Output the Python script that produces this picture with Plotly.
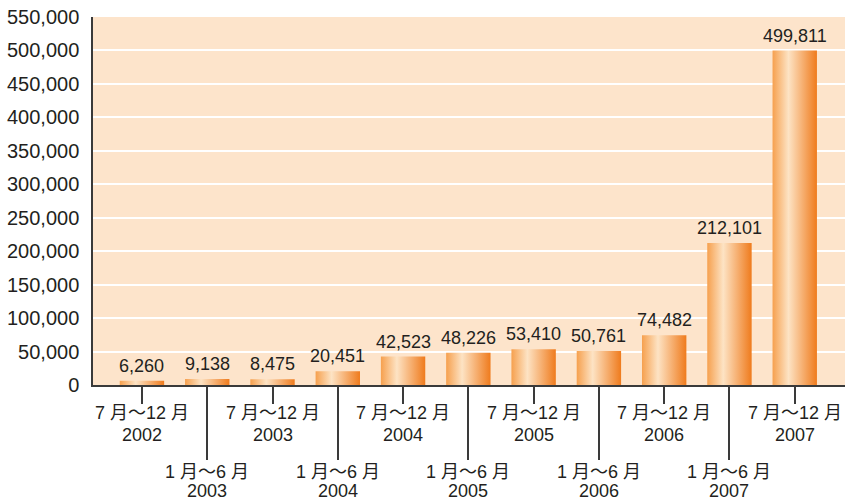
import plotly.graph_objects as go

periods = ["7 月～12 月", "1 月～6 月", "7 月～12 月", "1 月～6 月", "7 月～12 月", "1 月～6 月",
           "7 月～12 月", "1 月～6 月", "7 月～12 月", "1 月～6 月", "7 月～12 月"]
years = ["2002", "2003", "2003", "2004", "2004", "2005", "2005", "2006", "2006", "2007", "2007"]
values = [6260, 9138, 8475, 20451, 42523, 48226, 53410, 50761, 74482, 212101, 499811]
y_ticks = list(range(0, 550001, 50000))

TEXT = "#231f20"
AXIS = "#3a3a3a"
FONT = "Liberation Sans, Arial, Noto Sans CJK JP, sans-serif"
half_w = 0.34

fig = go.Figure()
for i, v in enumerate(values):
    fig.add_trace(go.Scatter(
        x=[i - half_w, i + half_w, i + half_w, i - half_w, i - half_w],
        y=[0, 0, v, v, 0],
        mode="lines", fill="toself", line=dict(width=0),
        fillgradient=dict(type="horizontal",
                          colorscale=[[0, "#f6a04e"], [0.36, "#fde3c4"], [1, "#ef7b1d"]]),
        hoverinfo="skip", showlegend=False,
    ))
    fig.add_annotation(x=i, y=v, text=f"{v:,}", showarrow=False,
                       xanchor="center", yanchor="bottom", yshift=3,
                       font=dict(size=18, color=TEXT, family=FONT))
    # category labels: upper row for 7-12 periods, lower row for 1-6 periods
    lower = (i % 2 == 1)
    for txt, shift in ((periods[i], -87 if lower else -28), (years[i], -106 if lower else -50)):
        fig.add_annotation(x=i, xref="x", y=0, yref="paper", text=txt, showarrow=False,
                           xanchor="center", yanchor="middle", yshift=shift,
                           font=dict(size=18, color=TEXT, family=FONT))

# dummy trace on xaxis2 so it renders
fig.add_trace(go.Scatter(x=[0], y=[0], xaxis="x2", mode="markers",
                         marker=dict(opacity=0), hoverinfo="skip", showlegend=False))

idx = list(range(len(values)))
xr = [-0.75, 10.77]

fig.update_layout(
    width=845, height=503,
    margin=dict(l=93, r=0, t=17, b=118, autoexpand=False),
    paper_bgcolor="white", plot_bgcolor="#fde4cb",
    font=dict(family=FONT, color=TEXT),
    xaxis=dict(range=xr, tickvals=idx[0::2], showticklabels=False,
               ticks="outside", ticklen=17, tickwidth=1.5, tickcolor=AXIS,
               showline=True, linecolor=AXIS, linewidth=1.5, showgrid=False,
               zeroline=False, automargin=False, fixedrange=True),
    xaxis2=dict(range=xr, overlaying="x", anchor="y", side="bottom",
                tickvals=idx[1::2], showticklabels=False,
                ticks="outside", ticklen=74, tickwidth=1.5, tickcolor=AXIS,
                showline=False, showgrid=False, zeroline=False, automargin=False,
                fixedrange=True),
    yaxis=dict(range=[0, 550000], tickvals=y_ticks, tickformat=",",
               showgrid=True, gridcolor="white", gridwidth=1.5,
               showline=True, linecolor=AXIS, linewidth=1.5, zeroline=False,
               ticks="", ticklabelstandoff=8, automargin=False,
               tickfont=dict(size=20, color=TEXT), fixedrange=True),
)

fig.write_html("out.html")
